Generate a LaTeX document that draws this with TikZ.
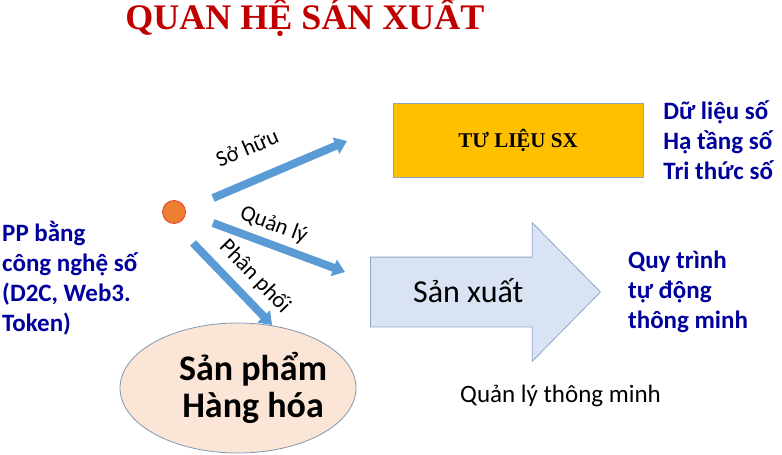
\documentclass[tikz,border=0pt]{standalone}
\usepackage{fontspec}
\setmainfont{Carlito}
\newfontfamily\seriffont{Liberation Serif}
\usetikzlibrary{shapes.geometric, shapes.arrows, arrows.meta, positioning}
\definecolor{titlered}{HTML}{C00000}
\definecolor{textblue}{HTML}{00009C}
\definecolor{flowblue}{HTML}{5B9BD5}
\definecolor{boxgold}{HTML}{FFC000}
\definecolor{boxedge}{HTML}{8EA4BE}
\definecolor{prodfill}{HTML}{DAE3F3}
\definecolor{prodedge}{HTML}{8FA6C8}
\definecolor{goodsfill}{HTML}{FBE5D6}
\definecolor{goodsedge}{HTML}{7F97B4}
\definecolor{dotfill}{HTML}{ED7D31}
\definecolor{dotedge}{HTML}{E2401C}
\newcommand{\fsz}[2]{\fontsize{#1}{#2}\selectfont}
\tikzstyle{list} = [text=textblue, font=\bfseries\fsz{25}{30}, align=left, inner sep=0pt]
\tikzstyle{flow} = [line width=8pt, flowblue, -{Triangle[width=17pt, length=12pt]}]
\tikzstyle{flowlabel} = [text=black, font=\fsz{22.5}{26}, inner sep=0pt, sloped]
\tikzstyle{bigarrow} = [single arrow, draw=prodedge, fill=prodfill, line width=0.8pt, minimum width=138pt, minimum height=230pt, single arrow head extend=34.5pt, single arrow tip angle=91, inner xsep=0pt, inner ysep=24.5pt, text height=20pt, text depth=0pt, font=\fsz{32}{38}]
\tikzstyle{goodstext} = [font=\bfseries\fsz{36}{37}, align=center, inner sep=0pt]

\begin{document}
\begin{tikzpicture}[x=1pt, y=-1pt]
	\useasboundingbox (0,0) rectangle (782,455);

	% Title
	\node (title) [font=\seriffont\bfseries\fsz{36}{40}, text=titlered, anchor=base] at (305,29) {QUAN HỆ SÁN XUẤT};

	% Means of production
	\node (means) [rectangle, draw=boxedge, fill=boxgold, minimum width=250pt, minimum height=74pt, font=\seriffont\bfseries\fsz{21}{25}] at (518,140) {TƯ LIỆU SX};
	\node (digital) [list, right=20pt of means] {Dữ liệu số\\Hạ tầng số\\Tri thức số};

	% Production
	\node (prod) [bigarrow, anchor=tail] at (370,292) {Sản xuất};
	\node (auto) [list, right=27pt of prod.tip] {Quy trình\\tự động\\thông minh};
	\node (smart) [font=\fsz{25}{30}, inner sep=0pt, anchor=base west] at (460,402) {Quản lý thông minh};

	% Products
	\node (goods) [ellipse, draw=goodsedge, fill=goodsfill, line width=0.8pt, minimum width=236pt, minimum height=130pt,
		label={[goodstext, xshift=15pt]center:{Sản phẩm\\Hàng hóa}}] at (238,388) {};

	% Left text
	\node (method) [list, anchor=base west] at (2,331) {PP bằng\\công nghệ số\\(D2C, Web3.\\Token)};

	% Centre dot
	\node (dot) [circle, fill=dotfill, draw=dotedge, line width=0.8pt, minimum size=23pt, inner sep=0pt] at (174,212) {};

	% Flow ends
	\coordinate (own_a) at (213,198);
	\coordinate (own_b) at (347,141);
	\coordinate (mgmt_a) at (213,223);
	\coordinate (mgmt_b) at (345,272);
	\coordinate (dist_a) at (193,243);
	\coordinate (dist_b) at (272,325);

	% Arrows - relations
	\draw[flow] (own_a) -- node[flowlabel, pos=.35, above=25pt, anchor=base] {Sở hữu} (own_b);
	\draw[flow] (mgmt_a) -- node[flowlabel, pos=.41, above=13pt, anchor=base] {Quản lý} (mgmt_b);
	\draw[flow] (dist_a) -- node[flowlabel, pos=.59, above=15pt, anchor=base] {Phân phối} (dist_b);

\end{tikzpicture}
\end{document}
